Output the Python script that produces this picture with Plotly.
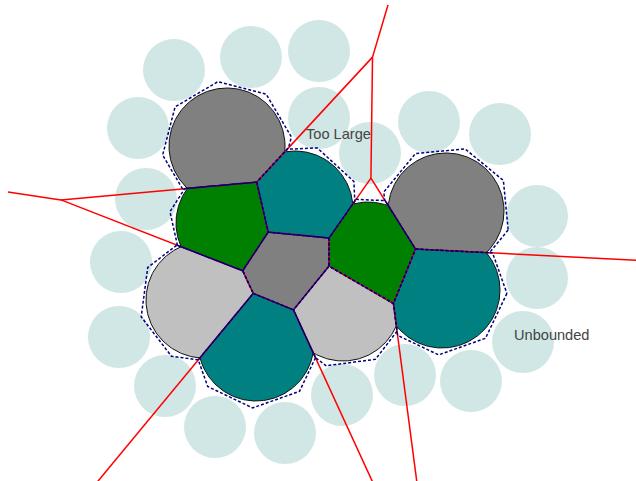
import numpy as np
import plotly.graph_objects as go

# ---- data (screen-pixel coordinate space, y grows downward) ----
cell_x = [227, 295, 446, 234, 290, 368, 442, 204, 256, 343]
cell_y = [146, 209, 211, 223, 260, 260, 290, 300, 343, 303]
cell_colors = ["#808080", "#008080", "#808080", "#008000", "#808080",
               "#008000", "#008080", "#c0c0c0", "#008080", "#c0c0c0"]
cell_radius = 58
outline_rot = [37, 20, 17, 10, 0, 25, 3, 30, 3, 15]

bg_x = [174, 251, 319, 138, 319, 370, 429, 500, 146, 537,
        121, 537, 119, 523, 165, 471, 215, 405, 285, 342]
bg_y = [70, 57, 51, 128, 118, 153, 122, 134, 199, 216,
        262, 278, 337, 342, 386, 381, 427, 375, 433, 395]
bg_radius = 31

labels = ["Too Large", "Unbounded"]
label_x = [338, 551]
label_y = [134, 335]

ray_box = [8, 5, 700, 560]   # xmin, ymin, xmax, ymax for unbounded edges

W, H = 636, 481
P = np.column_stack([cell_x, cell_y]).astype(float)
n = len(P)


def clip(poly, a, b):
    out = []
    m = len(poly)
    for i in range(m):
        p, q = poly[i], poly[(i + 1) % m]
        fp, fq = a @ p - b, a @ q - b
        if fp <= 0:
            out.append(p)
        if fp * fq < 0:
            t = fp / (fp - fq)
            out.append(p + t * (q - p))
    return out


def cell_clip(i, poly):
    for k in range(n):
        if k == i:
            continue
        a = 2 * (P[k] - P[i])
        b = P[k] @ P[k] - P[i] @ P[i]
        poly = clip(poly, a, b)
        if not poly:
            break
    return poly


fig = go.Figure()

for cx, cy in zip(bg_x, bg_y):
    fig.add_shape(type="circle", xref="x", yref="y",
                  x0=cx - bg_radius, x1=cx + bg_radius,
                  y0=cy - bg_radius, y1=cy + bg_radius,
                  fillcolor="#d0e7e5", line=dict(width=0), layer="below")

ang = np.linspace(0, 2 * np.pi, 241)[:-1]
for i in range(n):
    circ = [P[i] + cell_radius * np.array([np.cos(t), np.sin(t)]) for t in ang]
    poly = cell_clip(i, circ)
    xs = [p[0] for p in poly] + [poly[0][0]]
    ys = [p[1] for p in poly] + [poly[0][1]]
    fig.add_trace(go.Scatter(x=xs, y=ys, mode="lines", fill="toself",
                             fillcolor=cell_colors[i],
                             line=dict(color="#111111", width=1),
                             hoverinfo="skip"))

# voronoi edges (unbounded ones clipped to ray_box)
box_planes = [(np.array([-1.0, 0.0]), -ray_box[0]), (np.array([0.0, -1.0]), -ray_box[1]),
              (np.array([1.0, 0.0]), ray_box[2]), (np.array([0.0, 1.0]), ray_box[3])]
ex, ey = [], []
for i in range(n):
    for j in range(i + 1, n):
        m = (P[i] + P[j]) / 2
        v = P[j] - P[i]
        d = np.array([-v[1], v[0]]) / np.hypot(*v)
        t0, t1 = -1e5, 1e5
        cons = []
        for k in range(n):
            if k in (i, j):
                continue
            a = 2 * (P[k] - P[i])
            cons.append((a, P[k] @ P[k] - P[i] @ P[i]))
        cons += box_planes
        ok = True
        for a, b in cons:
            ad = a @ d
            r = b - a @ m
            if abs(ad) < 1e-12:
                if r < 0:
                    ok = False
                    break
            elif ad > 0:
                t1 = min(t1, r / ad)
            else:
                t0 = max(t0, r / ad)
        if ok and t1 > t0 + 1e-9:
            a0 = m + t0 * d
            a1 = m + t1 * d
            ex += [a0[0], a1[0], None]
            ey += [a0[1], a1[1], None]
fig.add_trace(go.Scatter(x=ex, y=ey, mode="lines",
                         line=dict(color="#ff0000", width=1.5),
                         hoverinfo="skip"))

ox, oy = [], []
for i in range(n):
    rot = np.deg2rad(outline_rot[i])
    oct_pts = [P[i] + 65 * np.array([np.cos(rot + k * np.pi / 4),
                                     np.sin(rot + k * np.pi / 4)]) for k in range(8)]
    poly = cell_clip(i, oct_pts)
    ox += [p[0] for p in poly] + [poly[0][0], None]
    oy += [p[1] for p in poly] + [poly[0][1], None]
fig.add_trace(go.Scatter(x=ox, y=oy, mode="lines",
                         line=dict(color="#000080", width=1.5, dash="3px,2px"),
                         hoverinfo="skip"))

for t, x, y in zip(labels, label_x, label_y):
    fig.add_annotation(x=x, y=y, text=t, showarrow=False,
                       font=dict(family="Liberation Sans, Arial", size=14.6, color="#444444"))

fig.update_layout(width=W, height=H, margin=dict(l=0, r=0, t=0, b=0),
                  paper_bgcolor="white", plot_bgcolor="white", showlegend=False)
fig.update_xaxes(range=[0, W], visible=False, fixedrange=True)
fig.update_yaxes(range=[H, 0], visible=False, fixedrange=True)
fig.write_html("out.html", config={"displayModeBar": False},
               post_script="document.body.style.margin='0';document.body.style.overflow='hidden';")
